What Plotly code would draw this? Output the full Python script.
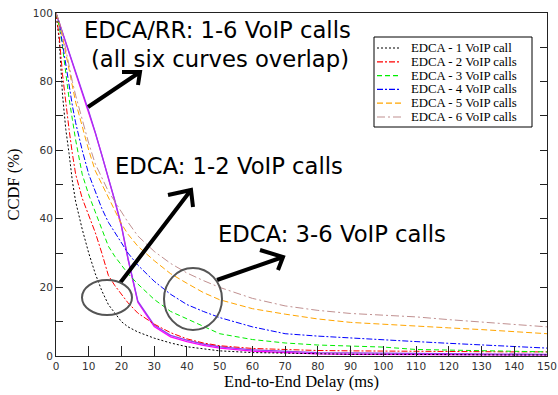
import plotly.graph_objects as go

# ---------------- data ----------------
delay_ms = [0, 1, 2, 3, 4, 5, 6, 8, 10, 12, 14, 16, 18, 20, 22, 25, 30, 35, 40, 45,
            50, 60, 70, 80, 90, 100, 110, 120, 130, 140, 150]

edca_1 = [100, 92, 76, 66, 59, 51, 45, 37, 30, 24, 19, 15, 12.5, 10, 8.5, 7, 5.2, 3.8, 2.7, 2,
          1.5, 1.0, 0.8, 0.6, 0.5, 0.5, 0.4, 0.4, 0.3, 0.3, 0.3]
edca_2 = [100, 93, 82, 73, 66, 59, 53, 46, 41, 36, 30, 23.5, 20.5, 18, 15.5, 12.5, 9.3, 6.8, 5, 3.8,
          3, 2.2, 1.8, 1.6, 1.5, 1.4, 1.3, 1.3, 1.2, 1.2, 1.2]
edca_3 = [100, 96, 90, 82, 75, 69, 63, 53, 47, 42, 37, 32, 29, 26.5, 24, 21, 16.5, 13, 10.8, 8.5,
          6.5, 4.8, 3.8, 3.2, 2.9, 2.6, 1.9, 1.7, 1.5, 1.3, 1.2]
edca_4 = [100, 97, 91, 85, 78, 73, 68, 60, 53, 48, 43, 39, 36, 33, 30, 26.5, 21.8, 18, 15, 13,
          11.2, 8.5, 6.5, 5.8, 5.2, 4.7, 4.2, 3.7, 3.2, 2.7, 2.3]
edca_5 = [100, 97, 93, 88, 83, 79, 74, 67, 60, 54, 50, 46, 42, 38.5, 35.5, 32, 27.8, 24, 21.2, 18.5,
          16.4, 13.8, 12.2, 10.8, 9.8, 9.2, 8.7, 8.2, 7.7, 7.0, 6.5]
edca_6 = [100, 97.5, 94, 89, 84, 80, 76, 69, 62, 56, 52, 48, 45, 42, 39, 35, 30.5, 27, 24.2, 22,
          20, 16.8, 14.6, 13.3, 12.4, 11.9, 11.4, 10.6, 9.9, 9.2, 8.5]
edca_rr_a = [100, 97.2, 94.4, 91.6, 88.8, 86, 83.1, 77.3, 71.4, 65.2, 58.8, 52.2, 45.3, 38, 28.5, 16, 9, 6, 4.6, 3.5,
             2.7, 1.8, 1.3, 1.0, 0.9, 0.8, 0.7, 0.6, 0.6, 0.5, 0.5]
edca_rr_b = [100, 97.1, 94.3, 91.4, 88.6, 85.8, 82.9, 77.1, 71.2, 65.0, 58.6, 52.0, 45.0, 37.7, 28.2, 15.7, 8.6, 5.6, 4.2, 3.1,
             2.3, 1.4, 0.9, 0.6, 0.5, 0.45, 0.4, 0.35, 0.3, 0.3, 0.3]

series_names = ["EDCA - 1 VoIP call", "EDCA - 2 VoIP calls", "EDCA - 3 VoIP calls",
                "EDCA - 4 VoIP calls", "EDCA - 5 VoIP calls", "EDCA - 6 VoIP calls"]
series_values = [edca_1, edca_2, edca_3, edca_4, edca_5, edca_6]

x_title = "End-to-End Delay (ms)"
y_title = "CCDF (%)"
note_rr_1 = "EDCA/RR: 1-6 VoIP calls"
note_rr_2 = "(all six curves overlap)"
note_12 = "EDCA: 1-2 VoIP calls"
note_36 = "EDCA: 3-6 VoIP calls"

# ---------------- styles ----------------
colors = ["#000000", "#ff0000", "#00ee00", "#0000ff", "#ffa500", "#c09090"]
dashes = ["2px,2px", "6px,2px,2px,2px", "5px,3px", "6px,2px,2px,2px", "6px,3px", "8px,3px,2px,3px"]

W, H = 558, 395
# plot area in window pixels: x 56..547, y 13..356
ML, MT = 56, 13
MR, MB = W - 547, H - 356
PW, PH = W - ML - MR, H - MT - MB


def px(x):
    return (x - ML) / PW


def py(y):
    return (H - MB - y) / PH


fig = go.Figure()

fig.add_trace(go.Scatter(x=delay_ms, y=edca_rr_b, mode="lines", showlegend=False,
                         line=dict(color="#ff00ff", width=1.3)))
fig.add_trace(go.Scatter(x=delay_ms, y=edca_rr_a, mode="lines", showlegend=False,
                         line=dict(color="#9a3cf0", width=1.3)))
for name, vals, c, d in zip(series_names, series_values, colors, dashes):
    fig.add_trace(go.Scatter(x=delay_ms, y=vals, mode="lines", name=name, showlegend=False,
                             line=dict(color=c, width=1, dash=d)))

shapes = []
annotations = []

# custom compact legend
lx0, ly0, lx1, ly1 = 374, 37, 532, 127
shapes.append(dict(type="rect", xref="paper", yref="paper", x0=px(lx0), x1=px(lx1),
                   y0=py(ly1), y1=py(ly0), line=dict(color="#000", width=1),
                   fillcolor="white", layer="above"))
for i, (name, c, d) in enumerate(zip(series_names, colors, dashes)):
    yc = 48 + i * 13.8
    shapes.append(dict(type="line", xref="paper", yref="paper", x0=px(377), x1=px(401),
                       y0=py(yc), y1=py(yc), line=dict(color=c, width=1.2, dash=d)))
    annotations.append(dict(xref="paper", yref="paper", x=px(409), y=py(yc), text=name,
                            showarrow=False, xanchor="left", yanchor="middle",
                            font=dict(family="Liberation Serif", size=12.8, color="#000")))

# text notes
note_font = dict(family="DejaVu Sans", size=22.7, color="#000")
for txt, xl, ym in [(note_rr_1, 82, 30), (note_rr_2, 89, 59), (note_12, 113, 166), (note_36, 216, 234)]:
    annotations.append(dict(xref="paper", yref="paper", x=px(xl), y=py(ym), text=txt,
                            showarrow=False, xanchor="left", yanchor="middle", font=note_font))


# arrows with open heads
def arrow(t, h, a, b):
    path = (f"M {px(t[0])} {py(t[1])} L {px(h[0])} {py(h[1])} "
            f"M {px(a[0])} {py(a[1])} L {px(h[0])} {py(h[1])} L {px(b[0])} {py(b[1])}")
    return dict(type="path", xref="paper", yref="paper", path=path,
                line=dict(color="#000", width=4))


shapes.append(arrow((88, 107), (140, 72), (122, 72), (138, 85)))
shapes.append(arrow((120, 283), (191, 190), (168, 195), (193, 207)))
shapes.append(arrow((217, 280), (283, 257), (260, 250), (278, 270)))

# ellipses
for (x0, x1, y0, y1) in [(82, 132, 280, 315), (164, 222, 268, 330)]:
    shapes.append(dict(type="circle", xref="paper", yref="paper", x0=px(x0), x1=px(x1),
                       y0=py(y1), y1=py(y0), line=dict(color="#555", width=2)))

tick_font = dict(family="DejaVu Sans", size=10.5, color="#333")
title_font = dict(family="Liberation Serif", size=16.5, color="#000")

fig.update_layout(
    width=W, height=H,
    margin=dict(l=ML, r=MR, t=MT, b=MB, autoexpand=False),
    paper_bgcolor="white", plot_bgcolor="white",
    showlegend=False,
    shapes=shapes, annotations=annotations,
    xaxis=dict(range=[0, 150], tickmode="linear", tick0=0, dtick=10, ticks="inside", ticklen=10,
               tickcolor="#222", showgrid=False, zeroline=False, showline=True, linecolor="#222",
               linewidth=1, mirror=True, tickfont=tick_font, automargin=False,
               title=dict(text=x_title, font=title_font, standoff=2)),
    yaxis=dict(range=[0, 100], tickmode="linear", tick0=0, dtick=20, ticks="inside", ticklen=7,
               tickcolor="#222", showgrid=False, zeroline=False, showline=True, linecolor="#222",
               linewidth=1, mirror="ticks", tickfont=tick_font, automargin=False,
               minor=dict(dtick=10, ticks="inside", ticklen=7, tickcolor="#222"),
               title=dict(text=y_title, font=title_font, standoff=9)),
)

# remove the default 8px page margin so the figure sits at the window's top-left corner
fig.write_html("out.html", config={"displayModeBar": False},
               post_script="document.body.style.margin='0';document.body.style.padding='0';")
